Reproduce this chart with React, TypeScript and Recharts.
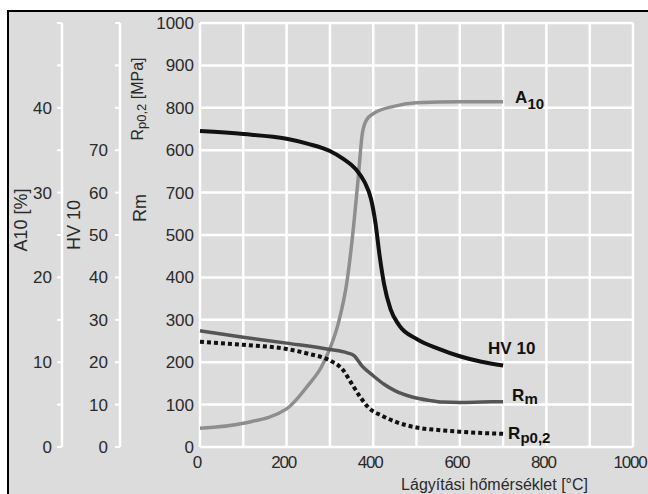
import { LineChart, Line, XAxis, YAxis, CartesianGrid, Label, LabelList } from "recharts"

// Lágyítási hőmérséklet [°C] – sample points of each curve
const hvTemp = [0, 100, 200, 250, 300, 330, 360, 380, 395, 405, 415, 425, 440, 460, 500, 550, 600, 650, 700]
const hvValues = [74.5, 73.8, 72.7, 71.5, 69.8, 68, 65.5, 62.5, 58.5, 53, 45, 38.5, 32.5, 28.7, 25.5, 23.2, 21.4, 20.1, 19.2]

const a10Temp = [0, 100, 200, 250, 280, 300, 320, 340, 355, 365, 375, 385, 400, 450, 500, 600, 700]
const a10Values = [2.2, 2.8, 4.5, 7.3, 9.4, 11.6, 14.7, 19.7, 26.2, 31.5, 37, 38.6, 39.3, 40.2, 40.6, 40.7, 40.7]

const rmTemp = [0, 100, 200, 300, 340, 355, 375, 400, 425, 450, 490, 530, 560, 600, 650, 700]
const rmValues = [274, 259, 245, 230, 222, 216, 190, 168, 148, 133, 118, 110, 106, 105, 106, 107]

const rpTemp = [0, 100, 200, 250, 300, 330, 350, 370, 390, 420, 450, 500, 550, 600, 650, 700]
const rpValues = [248, 241, 231, 220, 204, 182, 150, 118, 92, 74, 60, 46, 40, 36, 33, 31]

const xTicks = [0, 100, 200, 300, 400, 500, 600, 700, 800, 900, 1000]
const mpaTicks = [0, 100, 200, 300, 400, 500, 600, 700, 800, 900, 1000]
// labels as printed on the original (600/700 swapped)
const mpaLabels = ["0", "100", "200", "300", "400", "500", "700", "600", "800", "900", "1000"]
const hvTicks = [0, 10, 20, 30, 40, 50, 60, 70, 80, 90, 100]
const a10Ticks = [0, 5, 10, 15, 20, 25, 30, 35, 40, 45, 50]

const toData = (t: number[], v: number[]) => t.map((x, i) => ({ t: x, v: v[i] }))

const hvData = toData(hvTemp, hvValues)
const a10Data = toData(a10Temp, a10Values)
const rmData = toData(rmTemp, rmValues)
const rpData = toData(rpTemp, rpValues)

// axis ids sort so that the MPa axis sits next to the plot
const MPA = "1mpa"
const HV = "2hv"
const A10 = "3a10"

const FONT = '"Liberation Sans", Arial, Helvetica, sans-serif'
const tickStyle = { fill: "#2a2a2a", fontSize: 17, fontFamily: FONT }

const endLabel = (n: number, main: string, sub: string, dx: number, dy: number, subDy: number, size: number) =>
  (props: any) => {
    if (props.index !== n - 1) return null
    return (
      <text x={props.x + dx} y={props.y + dy} fontFamily={FONT} fontWeight="bold" fontSize={size} fill="#111">
        {main}
        {sub ? <tspan dy={subDy} fontSize={size - 2}>{sub}</tspan> : null}
      </text>
    )
  }

type Part = { t: string; sub?: boolean }

const vText = (parts: Part[], x: number, y: number, size: number) => (
  <text
    x={x}
    y={y}
    transform={`rotate(-90 ${x} ${y})`}
    textAnchor="middle"
    dominantBaseline="central"
    fontFamily={FONT}
    fontSize={size}
    fill="#2a2a2a"
  >
    {parts.map((p, i) => (
      <tspan key={i} fontSize={p.sub ? size - 3 : size} dy={p.sub ? 4 : i > 0 && parts[i - 1].sub ? -4 : 0}>
        {p.t}
      </tspan>
    ))}
  </text>
)

const App = () => {
  return (
    <div style={{ position: "absolute", left: 0, top: 0, width: 648, height: 494, overflow: "hidden", background: "#fff" }}>
      <div
        style={{
          position: "absolute",
          left: 7,
          top: 10,
          width: 680,
          height: 520,
          background: "#dcdcdc",
          border: "2px solid #000",
          boxSizing: "border-box",
        }}
      />
      <div style={{ position: "absolute", left: 0, top: 0 }}>
        <LineChart width={648} height={494} margin={{ top: 23, right: 15, bottom: 7, left: 10 }}>
          <CartesianGrid yAxisId={MPA} stroke="#fff" strokeWidth={2.5} ticks={mpaTicks} />
          <XAxis
            dataKey="t"
            type="number"
            domain={[0, 1000]}
            ticks={xTicks}
            interval={0}
            tickFormatter={(v: number) => (v % 200 === 0 ? String(v) : "")}
            tick={{ ...tickStyle, letterSpacing: -1.2, dx: -3 }}
            tickLine={false}
            axisLine={false}
            tickSize={0}
            tickMargin={9}
            height={40}
            allowDuplicatedCategory={false}
          >
            <Label
              content={(p: any) => (
                <text
                  x={p.viewBox.x + p.viewBox.width - 45}
                  y={p.viewBox.y + 43}
                  textAnchor="end"
                  fontFamily={FONT}
                  fontSize={16}
                  fill="#2a2a2a"
                >
                  Lágyítási hőmérséklet [°C]
                </text>
              )}
            />
          </XAxis>
          <YAxis
            yAxisId={A10}
            domain={[0, 50]}
            ticks={a10Ticks}
            interval={0}
            tickFormatter={(v: number) => (v % 10 === 0 && v < 50 ? String(v) : "")}
            tick={tickStyle}
            tickLine={{ stroke: "#fff", strokeWidth: 2 }}
            axisLine={{ stroke: "#fff", strokeWidth: 2.5 }}
            tickSize={5}
            tickMargin={5}
            width={52}
          >
            <Label content={(p: any) => vText([{ t: "A10 [%]" }], p.viewBox.x + 11, 220, 18)} />
          </YAxis>
          <YAxis
            yAxisId={HV}
            domain={[0, 100]}
            ticks={hvTicks}
            interval={0}
            tickFormatter={(v: number) => (v <= 70 ? String(v) : "")}
            tick={tickStyle}
            tickLine={{ stroke: "#fff", strokeWidth: 2 }}
            axisLine={{ stroke: "#fff", strokeWidth: 2.5 }}
            tickSize={5}
            tickMargin={7}
            width={58}
          >
            <Label content={(p: any) => vText([{ t: "HV 10" }], p.viewBox.x + 12, 225, 18)} />
          </YAxis>
          <YAxis
            yAxisId={MPA}
            domain={[0, 1000]}
            ticks={mpaTicks}
            interval={0}
            tickFormatter={(v: number) => mpaLabels[mpaTicks.indexOf(v)]}
            tick={tickStyle}
            tickLine={false}
            axisLine={false}
            tickSize={0}
            tickMargin={6}
            width={80}
          >
            <Label
              content={(p: any) => (
                <g>
                  {vText([{ t: "R" }, { t: "p0,2", sub: true }, { t: " [MPa]" }], p.viewBox.x + 17, 99, 16)}
                  {vText([{ t: "Rm" }], p.viewBox.x + 20, 208, 18)}
                </g>
              )}
            />
          </YAxis>

          <Line
            yAxisId={A10}
            data={a10Data}
            dataKey="v"
            type="monotone"
            stroke="#8e8e8e"
            strokeWidth={3.5}
            dot={false}
            isAnimationActive={false}
          >
            <LabelList dataKey="v" content={endLabel(a10Data.length, "A", "10", 12, 1, 6, 17)} />
          </Line>
          <Line
            yAxisId={HV}
            data={hvData}
            dataKey="v"
            type="monotone"
            stroke="#111"
            strokeWidth={4}
            dot={false}
            isAnimationActive={false}
          >
            <LabelList dataKey="v" content={endLabel(hvData.length, "HV 10", "", -15, -12, 0, 17)} />
          </Line>
          <Line
            yAxisId={MPA}
            data={rmData}
            dataKey="v"
            type="monotone"
            stroke="#555"
            strokeWidth={3.5}
            dot={false}
            isAnimationActive={false}
          >
            <LabelList dataKey="v" content={endLabel(rmData.length, "R", "m", 9, -1, 3, 17)} />
          </Line>
          <Line
            yAxisId={MPA}
            data={rpData}
            dataKey="v"
            type="monotone"
            stroke="#111"
            strokeWidth={4}
            strokeDasharray="4 3"
            dot={false}
            isAnimationActive={false}
          >
            <LabelList dataKey="v" content={endLabel(rpData.length, "R", "p0,2", 5, 5, 4, 17)} />
          </Line>
        </LineChart>
      </div>
    </div>
  )
}

export default App
